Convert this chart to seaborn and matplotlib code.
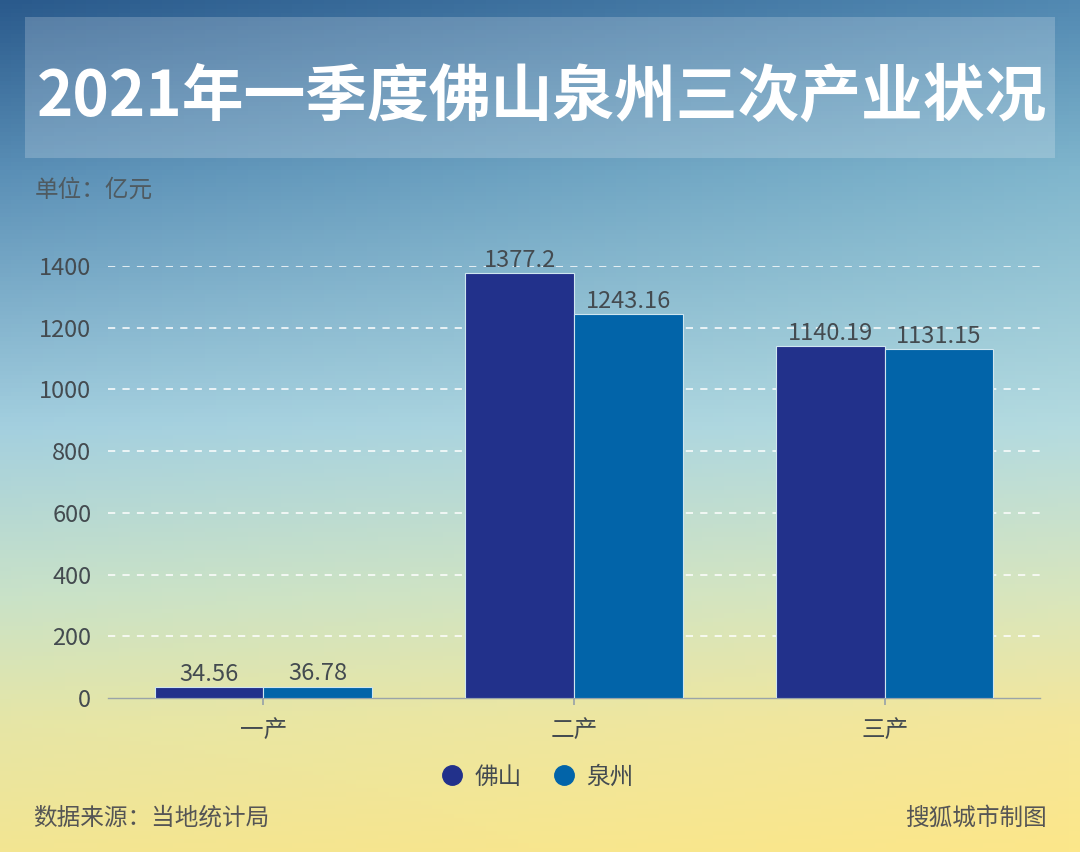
import numpy as np
import pandas as pd
import matplotlib
matplotlib.use("Agg")
import matplotlib.pyplot as plt
from matplotlib.colors import to_rgb
from matplotlib.lines import Line2D
from matplotlib.patches import Rectangle
import seaborn as sns

# ---- data ----
categories = ["一产", "二产", "三产"]
cities = ["佛山", "泉州"]
foshan_values = [34.56, 1377.2, 1140.19]
quanzhou_values = [36.78, 1243.16, 1131.15]
value_labels_foshan = ["34.56", "1377.2", "1140.19"]
value_labels_quanzhou = ["36.78", "1243.16", "1131.15"]
yticks = [0, 200, 400, 600, 800, 1000, 1200, 1400]
title = "2021年一季度佛山泉州三次产业状况"
unit_text = "单位：亿元"
source_text = "数据来源：当地统计局"
credit_text = "搜狐城市制图"

df = pd.DataFrame({
    "产业": categories * 2,
    "城市": [cities[0]] * 3 + [cities[1]] * 3,
    "值": foshan_values + quanzhou_values,
})

sns.set_theme(style="white")
plt.rcParams["font.family"] = ["Noto Sans CJK SC", "DejaVu Sans"]

W, H = 1080, 852
fig = plt.figure(figsize=(W / 100, H / 100), dpi=100)
FS = 17
TXT = "#444b50"

# ---- background gradient ----
bg = fig.add_axes([0, 0, 1, 1], zorder=-10)
bg.set_axis_off()
ny, nx = 200, 100
yy = np.linspace(0, 1, ny)[:, None]
xx = np.linspace(0, 1, nx)[None, :]
stops_y = [0.0, 0.2, 0.5, 0.7, 0.85, 1.0]
left_cols = ["#2a5a8c", "#5a8fb6", "#a3cfdf", "#c9e2c8", "#e6e6a6", "#f3e592"]
right_cols = ["#5289b2", "#80b6cd", "#b4dbe0", "#d9e6bd", "#f5e79a", "#fce78a"]
def grad(cols):
    arr = np.array([to_rgb(c) for c in cols])
    out = np.zeros((ny, 3))
    for k in range(3):
        out[:, k] = np.interp(yy[:, 0], stops_y, arr[:, k])
    return out
L = grad(left_cols)[:, None, :]
R = grad(right_cols)[:, None, :]
img = L * (1 - xx[..., None]) + R * xx[..., None]
bg.imshow(img, aspect="auto", extent=[0, 1, 0, 1], origin="upper")
bg.set_xlim(0, 1)
bg.set_ylim(0, 1)

# title box
bg.add_patch(Rectangle((25 / W, 1 - 158 / H), 1030 / W, 141 / H,
                       facecolor="white", alpha=0.2, edgecolor="none"))
bg.text(542 / W, 1 - 97 / H, title, ha="center", va="center",
        fontsize=44.5, fontweight="bold", color="white")
bg.text(35 / W, 1 - 190 / H, unit_text, ha="left", va="center",
        fontsize=FS, color="#4f5a60")
bg.text(33 / W, 1 - 818 / H, source_text, ha="left", va="center",
        fontsize=FS, color="#555555")
bg.text(1047 / W, 1 - 818 / H, credit_text, ha="right", va="center",
        fontsize=FS, color="#555555")

# ---- chart ----
ax = fig.add_axes([108 / W, 1 - 698 / H, (1040 - 108) / W, (698 - 266) / H])
ax.patch.set_alpha(0)
palette = {"佛山": "#22318b", "泉州": "#0264a9"}
sns.barplot(data=df, x="产业", y="值", hue="城市", palette=palette,
            width=0.7, ax=ax, edgecolor="#cfe6f0", linewidth=0.8,
            saturation=1, legend=False, zorder=3)
ax.set_ylim(0, 1400)
ax.set_xlim(-0.5, 2.5)
ax.set_yticks(yticks)
ax.set_yticklabels([str(v) for v in yticks])
ax.set_xlabel("")
ax.set_ylabel("")
for v in yticks[1:]:
    ax.axhline(v, color="white", lw=1.3, ls=(0, (4, 4)), alpha=0.85, zorder=1)
for s in ["top", "right", "left"]:
    ax.spines[s].set_visible(False)
ax.spines["bottom"].set_color("#9aa4a8")
ax.spines["bottom"].set_linewidth(1)
ax.tick_params(axis="y", length=0, labelsize=FS, labelcolor=TXT, pad=12)
ax.tick_params(axis="x", length=5, color="#9aa4a8", labelsize=FS,
               labelcolor=TXT, pad=10, direction="out", bottom=True)

for container, labels in zip(ax.containers, [value_labels_foshan, value_labels_quanzhou]):
    ax.bar_label(container, labels=labels, padding=1, fontsize=FS,
                 color=TXT, zorder=5)

# legend
handles = [Line2D([], [], marker="o", ls="", markersize=14,
                  markerfacecolor=palette[c], markeredgecolor=palette[c]) for c in cities]
fig.legend(handles, cities, loc="center", bbox_to_anchor=(537 / W, 1 - 777 / H),
           ncol=2, frameon=False, fontsize=FS, handlelength=1.0, handletextpad=0.45,
           columnspacing=1.3, labelcolor=TXT)

fig.savefig("out.png", dpi=100)
